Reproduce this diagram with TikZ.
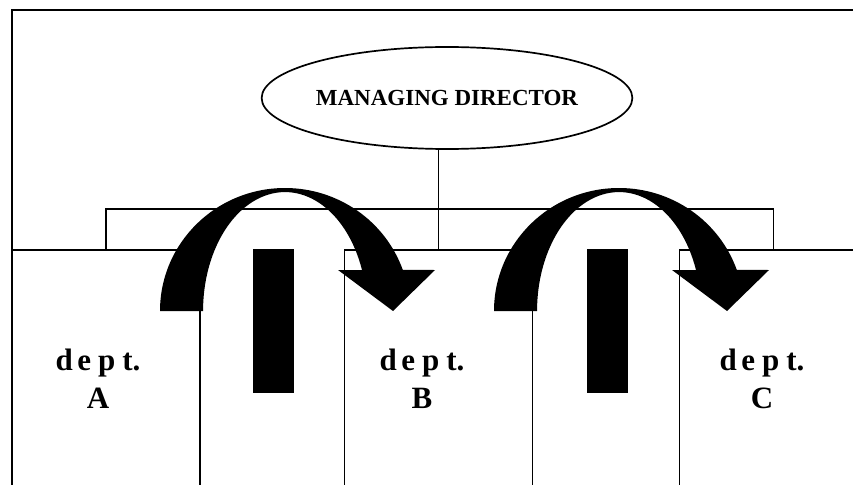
\documentclass[tikz,border=0pt]{standalone}
\usepackage{fontspec}
\setmainfont{Liberation Serif}
\usetikzlibrary{shapes.geometric}
\newcommand\deptword{d\hspace{4.5pt}e\hspace{7pt}p\hspace{7pt}t.}
\newcommand\turnarrow[1]{%
  \fill[turnshape, shift={#1}] (-125,0)
    arc[start angle=180, end angle=340.5, x radius=125, y radius=123]
    -- (150,-41) -- (108,0) -- (53,-41) -- (77,-41)
    arc[start angle=339.8, end angle=180, x radius=82, y radius=119]
    -- cycle;}
\begin{document}
\begin{tikzpicture}[x=1pt, y=-1pt, line width=1.5pt,
  frameline/.style={line width=2.6pt},
  deptbox/.style={draw, rectangle, minimum width=188pt, minimum height=300pt,
    anchor=north, inner sep=0pt},
  deptlabel/.style={font=\bfseries\fontsize{31}{38}\selectfont, align=center,
    inner sep=0pt},
  mdnode/.style={draw, ellipse, line width=1.7pt, minimum width=354pt,
    minimum height=102pt, inner sep=0pt,
    font=\bfseries\fontsize{23}{28}\selectfont},
  blockbar/.style={fill=black, draw=none, rectangle, minimum width=41pt,
    minimum height=144pt, anchor=north west, inner sep=0pt},
  turnshape/.style={fill=black}
]
\useasboundingbox (0,0) rectangle (853,484);
\clip (0,0) rectangle (853,484);
\fill[white] (0,0) rectangle (853,484);

% outer frame
\draw[frameline] (12,490) -- (12,10) -- (860,10);

% managing director
\node[mdnode] (md) at (447,98) {MANAGING DIRECTOR};

% department boxes
\node[deptbox] (boxA) at (106,249) {};
\node[deptbox] (boxB) at (438.5,249) {};
\node[deptbox] (boxC) at (773.5,249) {};

% connectors
\coordinate (busmid) at (438.5,209);
\draw (boxA.north) |- (busmid) -| (boxC.north);
\draw (boxB.north) -- (boxB.north |- md.south);

% blocking bars
\node[blockbar] (barA) at (252,248) {};
\node[blockbar] (barB) at (586,248) {};

% curved arrows
\turnarrow{(285,311)}
\turnarrow{(619,311)}

% labels
\node[deptlabel] (labA) at (98,379) {\deptword\\A};
\node[deptlabel] (labB) at (422,379) {\deptword\\B};
\node[deptlabel] (labC) at (762,379) {\deptword\\C};
\end{tikzpicture}
\end{document}
